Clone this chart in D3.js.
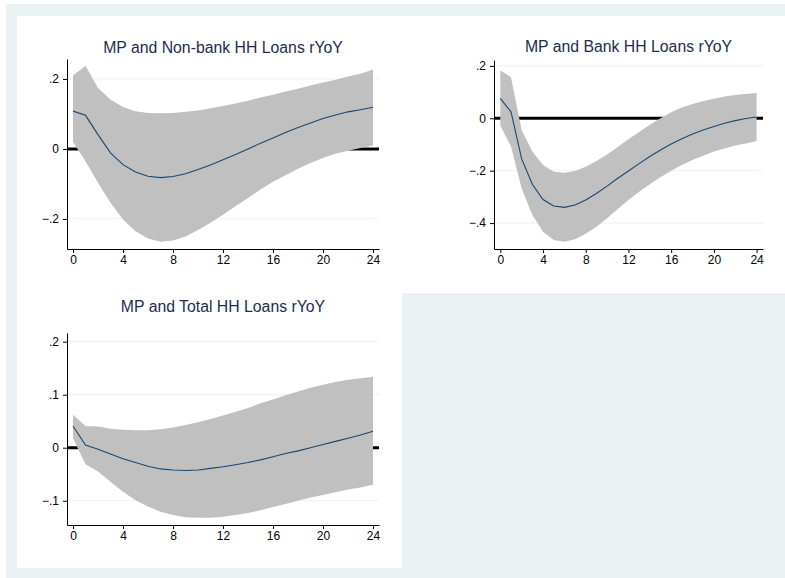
<!DOCTYPE html>
<meta charset="utf-8">
<script src="https://cdn.jsdelivr.net/npm/d3@7"></script>
<style>
body { margin: 0; background: #fff; }
text { font-family: "Liberation Sans", Arial, sans-serif; }
.band { fill: #c0c0c0; stroke: none; }
.irf { fill: none; stroke: #1a476f; stroke-width: 1.1; }
.zero { stroke: #000; stroke-width: 3; }
.grid { stroke: #eaf2f3; stroke-width: 1; }
.ttl { font-size: 15.8px; fill: #1e2d4f; text-anchor: middle; }
</style>
<body>
<script>

// horizons 0..24
var steps = d3.range(0, 25);

// MP and Non-bank HH Loans rYoY
var nonbankIrf = [0.108, 0.096, 0.041, -0.011, -0.045, -0.066, -0.078, -0.082, -0.079, -0.071, -0.059, -0.046, -0.031,
                  -0.016, 0.000, 0.016, 0.031, 0.047, 0.061, 0.074, 0.087, 0.097, 0.106, 0.112, 0.119];
var nonbankHi  = [0.210, 0.238, 0.174, 0.141, 0.120, 0.108, 0.103, 0.102, 0.103, 0.106, 0.110, 0.116, 0.123,
                  0.130, 0.138, 0.147, 0.155, 0.164, 0.172, 0.181, 0.190, 0.198, 0.207, 0.215, 0.227];
var nonbankLo  = [0.020, -0.035, -0.097, -0.154, -0.202, -0.235, -0.256, -0.265, -0.262, -0.250, -0.232, -0.211, -0.188,
                  -0.164, -0.140, -0.116, -0.094, -0.075, -0.057, -0.040, -0.026, -0.014, -0.005, 0.003, 0.010];

// MP and Bank HH Loans rYoY
var bankIrf = [0.076, 0.025, -0.155, -0.252, -0.310, -0.335, -0.340, -0.331, -0.312, -0.287, -0.259, -0.229, -0.201,
               -0.173, -0.146, -0.121, -0.098, -0.078, -0.060, -0.045, -0.031, -0.019, -0.009, -0.001, 0.005];
var bankHi  = [0.182, 0.157, -0.045, -0.127, -0.178, -0.204, -0.208, -0.201, -0.185, -0.163, -0.138, -0.110, -0.080,
               -0.052, -0.025, 0.000, 0.023, 0.041, 0.055, 0.066, 0.075, 0.083, 0.089, 0.093, 0.097];
var bankLo  = [-0.028, -0.108, -0.268, -0.369, -0.433, -0.465, -0.471, -0.462, -0.441, -0.414, -0.382, -0.346, -0.312,
               -0.280, -0.252, -0.225, -0.200, -0.178, -0.159, -0.143, -0.127, -0.115, -0.104, -0.096, -0.087];

// MP and Total HH Loans rYoY
var totalIrf = [0.041, 0.005, -0.003, -0.012, -0.021, -0.028, -0.035, -0.040, -0.042, -0.043, -0.042, -0.039, -0.036,
                -0.032, -0.028, -0.023, -0.017, -0.011, -0.006, 0.000, 0.006, 0.012, 0.018, 0.024, 0.031];
var totalHi  = [0.062, 0.041, 0.040, 0.036, 0.034, 0.033, 0.033, 0.035, 0.038, 0.043, 0.048, 0.054, 0.061,
                0.068, 0.075, 0.084, 0.091, 0.099, 0.106, 0.113, 0.119, 0.124, 0.128, 0.131, 0.134];
var totalLo  = [0.018, -0.031, -0.045, -0.064, -0.083, -0.099, -0.111, -0.121, -0.127, -0.131, -0.132, -0.132, -0.130,
                -0.127, -0.123, -0.118, -0.112, -0.106, -0.100, -0.094, -0.089, -0.084, -0.079, -0.075, -0.070];

var xTicks = [0, 4, 8, 12, 16, 20, 24];
var yTicks1 = [-0.2, 0, 0.2];
var yTicks2 = [-0.4, -0.2, 0, 0.2];
var yTicks3 = [-0.1, 0, 0.1, 0.2];

var titles = ["MP and Non-bank HH Loans rYoY", "MP and Bank HH Loans rYoY", "MP and Total HH Loans rYoY"];

var width = 785,
    height = 578;

var svg = d3.select("body").append("svg")
    .attr("width", width)
    .attr("height", height);

// stata-like graph region
svg.append("rect").attr("x", 6).attr("y", 4).attr("width", width - 6).attr("height", height - 4).attr("fill", "#eaf2f3");
svg.append("rect").attr("x", 17).attr("y", 16).attr("width", width - 17).attr("height", 277).attr("fill", "#fff");
svg.append("rect").attr("x", 17).attr("y", 293).attr("width", 385).attr("height", 275).attr("fill", "#fff");

function fmt(d) {
  if (d === 0) return "0";
  return d3.format(".1f")(d).replace("0.", ".");
}

// box = plot region in px, xd/yd = scale domain that fills it
function panel(title, irf, lo, hi, yTicks, box, xd, yd) {
  var g = svg.append("g");

  var x = d3.scaleLinear().domain(xd).range([box.left, box.right]);
  var y = d3.scaleLinear().domain(yd).range([box.bottom, box.top]);

  g.selectAll(".grid")
    .data(yTicks.filter(function(d) { return d !== 0; }))
    .enter().append("line")
    .attr("class", "grid")
    .attr("x1", box.left).attr("x2", box.right)
    .attr("y1", function(d) { return y(d); })
    .attr("y2", function(d) { return y(d); });

  g.append("line")
    .attr("class", "zero")
    .attr("x1", box.left).attr("x2", box.right)
    .attr("y1", y(0)).attr("y2", y(0));

  var area = d3.area()
    .x(function(d) { return x(d); })
    .y0(function(d) { return y(lo[d]); })
    .y1(function(d) { return y(hi[d]); });

  g.append("path")
    .datum(steps)
    .attr("class", "band")
    .attr("d", area);

  var line = d3.line()
    .x(function(d) { return x(d); })
    .y(function(d) { return y(irf[d]); });

  g.append("path")
    .datum(steps)
    .attr("class", "irf")
    .attr("d", line);

  var ax = g.append("g")
    .attr("transform", "translate(0," + box.bottom + ")")
    .call(d3.axisBottom(x).tickValues(xTicks).tickSize(4).tickSizeOuter(0).tickPadding(2));

  var ay = g.append("g")
    .attr("transform", "translate(" + box.left + ",0)")
    .call(d3.axisLeft(y).tickValues(yTicks).tickFormat(fmt).tickSize(4).tickSizeOuter(0).tickPadding(4));

  [ax, ay].forEach(function(a) {
    a.selectAll("text").style("font-size", "12px").style("font-family", "Liberation Sans, Arial, sans-serif").attr("fill", "#000");
    a.selectAll("line, path").attr("stroke", "#000");
  });

  g.append("text")
    .attr("class", "ttl")
    .attr("x", (box.left + box.right) / 2)
    .attr("y", box.titleY)
    .text(title);
}

panel(titles[0], nonbankIrf, nonbankLo, nonbankHi, yTicks1,
      {left: 67, right: 379, top: 59, bottom: 249, titleY: 53},
      [-0.48, 24.48], [-0.286, 0.257]);

panel(titles[1], bankIrf, bankLo, bankHi, yTicks2,
      {left: 494, right: 763, top: 60, bottom: 249, titleY: 52},
      [-0.59, 24.6], [-0.499, 0.2225]);

panel(titles[2], totalIrf, totalLo, totalHi, yTicks3,
      {left: 67, right: 379, top: 333, bottom: 525, titleY: 312},
      [-0.48, 24.48], [-0.1458, 0.2164]);

</script>
</body>
</html>
